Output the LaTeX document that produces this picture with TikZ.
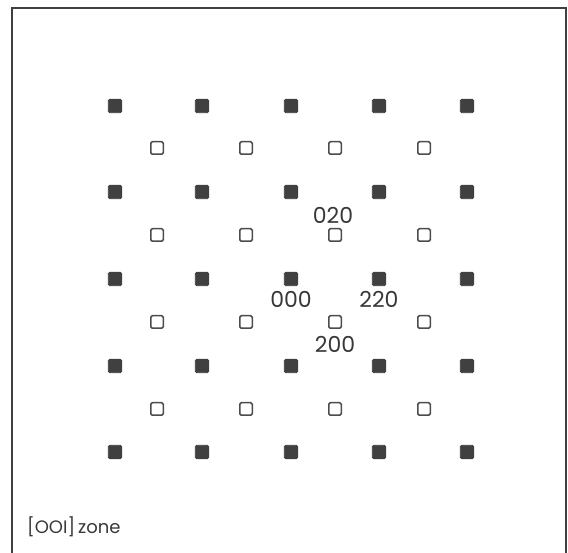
\documentclass[tikz,border=0pt]{standalone}
\usepackage{fontspec}
\setmainfont{Poppins}
\begin{document}
\begin{tikzpicture}[x=1pt,y=-1pt,
  filled/.style={draw=black!75,fill=black!75,line width=0.8pt,minimum size=13.5pt,inner sep=0pt,rounded corners=1.5pt},
  hollow/.style={draw=black!70,fill=white,line width=1.5pt,minimum size=12.5pt,inner sep=0pt,rounded corners=1.5pt},
  lbl/.style={font=\fontsize{22}{22}\selectfont,text=black!78,inner sep=0pt},
  frame/.style={draw=black!75,line width=1.6pt}]
\useasboundingbox (0,0) rectangle (568,553);
\draw[frame] (12,553) -- (12,8) -- (566,8) -- (566,553);
\foreach \i/\x in {1/115,2/202,3/291,4/379,5/467}
  \foreach \j/\y in {1/106,2/192,3/279,4/366,5/452}
    \node[filled] (f\i\j) at (\x,\y) {};
\foreach \i/\x in {1/157,2/246,3/335,4/424}
  \foreach \j/\y in {1/148,2/235,3/322,4/409}
    \node[hollow] (h\i\j) at (\x,\y) {};
\node[lbl] (l020) at (333,215) {020};
\node[lbl] (l000) at (291,299) {000};
\node[lbl] (l220) at (379,299) {220};
\node[lbl] (l200) at (335,344) {200};
\node[font=\fontsize{18}{18}\selectfont,text=black!78,inner sep=0pt,anchor=west] (zone) at (27,527) {[OOI]\,zone};
\end{tikzpicture}
\end{document}
